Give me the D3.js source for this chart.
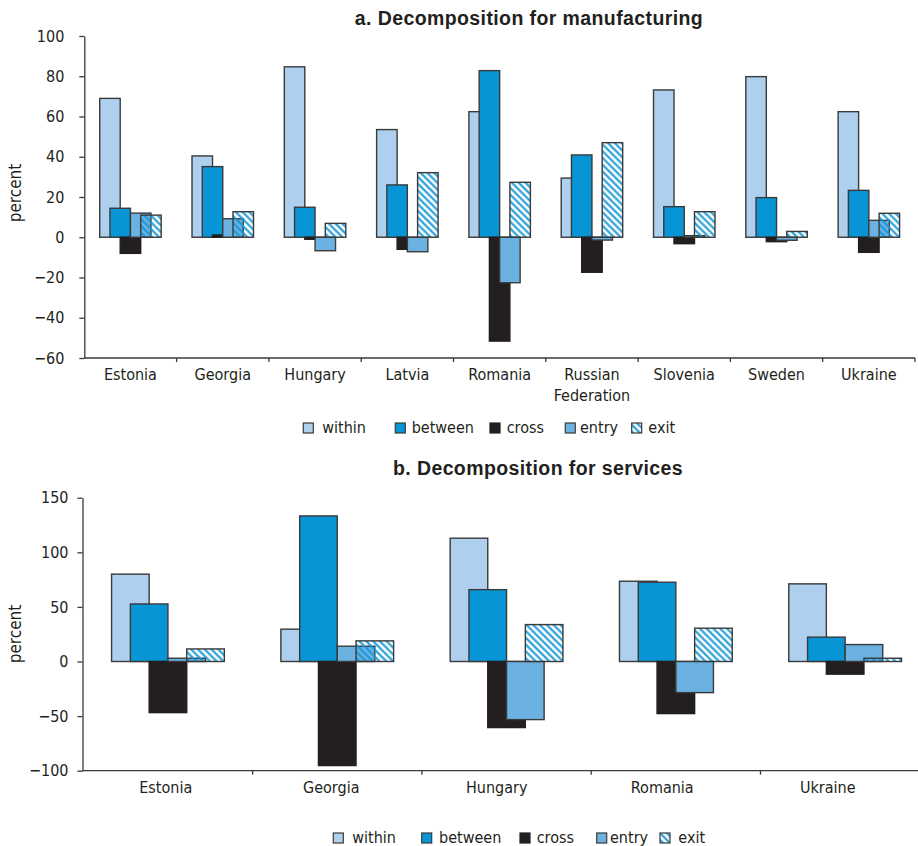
<!DOCTYPE html>
<html>
<head>
<meta charset="utf-8">
<script src="https://cdn.jsdelivr.net/npm/d3@7"></script>
<style>
  html, body { margin: 0; padding: 0; background: #fff; }
  svg { display: block; }
  .narrow { font-family: "Liberation Sans Narrow", "DejaVu Sans Condensed", "Roboto", sans-serif; }
</style>
</head>
<body>
<svg id="chart" width="918" height="846"></svg>
<script>
// ---- data ----
const seriesKeys = ["within", "between", "cross", "entry", "exit"];

// a. manufacturing
const categoriesA = ["Estonia", "Georgia", "Hungary", "Latvia", "Romania",
                     "Russian Federation", "Slovenia", "Sweden", "Ukraine"];
const withinA  = [69.0, 40.4, 84.7, 53.5, 62.4, 29.4, 73.2, 79.8, 62.4];
const betweenA = [14.4, 35.1, 14.9, 26.0, 82.8, 40.9, 15.2, 19.7, 23.3];
const crossA   = [-8.0,  1.1, -1.0, -6.0, -51.6, -17.4, -3.2, -2.2, -7.5];
const entryA   = [12.0,  9.2, -6.7, -7.2, -22.6, -1.4,  0.8, -1.5,  8.4];
const exitA    = [11.0, 12.7,  6.9, 32.1, 27.3, 47.0, 12.7,  2.9, 11.9];
const ticksA   = [-60, -40, -20, 0, 20, 40, 60, 80, 100];

// b. services
const categoriesB = ["Estonia", "Georgia", "Hungary", "Romania", "Ukraine"];
const withinB  = [80.0, 29.6, 112.9, 73.5, 71.1];
const betweenB = [52.7, 133.3, 65.8, 72.6, 22.3];
const crossB   = [-46.8, -95.3, -60.5, -47.7, -11.6];
const entryB   = [3.0, 14.0, -53.2, -28.5, 15.5];
const exitB    = [11.5, 18.9, 33.8, 30.5, 3.0];
const ticksB   = [-100, -50, 0, 50, 100, 150];

// ---- styles ----
const fills = {
  within: "#aed0ee",
  between: "#0795d6",
  cross: "#231f20",
  entry: "#6bb2e2",
  exit: "url(#hatch)"
};
const edge = "#3a3a3a";

const svg = d3.select("#chart");

// diagonal stripes for the exit series (transparent between stripes)
const defs = svg.append("defs");
defs.append("pattern")
  .attr("id", "hatch")
  .attr("patternUnits", "userSpaceOnUse")
  .attr("width", 4.8).attr("height", 4.8)
  .attr("patternTransform", "rotate(45)")
  .append("line")
  .attr("x1", 0).attr("y1", 2.4).attr("x2", 4.8).attr("y2", 2.4)
  .attr("stroke", "#1596d4").attr("stroke-width", 2);

function panel(cfg) {
  const g = svg.append("g");
  const rows = cfg.categories.map((c, i) => {
    const r = { category: c };
    seriesKeys.forEach(k => r[k] = cfg.values[k][i]);
    return r;
  });

  const x = d3.scaleBand().domain(cfg.categories).range(cfg.xRange);
  const labelX = d3.scaleBand().domain(cfg.categories).range(cfg.labelRange || cfg.xRange);
  const y = d3.scaleLinear().domain(cfg.yDomain).range(cfg.yRange);

  const bw = x.bandwidth() * 0.222;   // bar width
  const step = bw / 2;                // bars overlap by half
  const offset0 = (x.bandwidth() - (bw + step * 4)) / 2;

  // bars, series by series so later ones sit on top
  seriesKeys.forEach((k, si) => {
    g.append("g").selectAll("rect")
      .data(rows)
      .join("rect")
      .attr("x", d => x(d.category) + offset0 + si * step)
      .attr("width", bw)
      .attr("y", d => y(Math.max(0, d[k])))
      .attr("height", d => Math.abs(y(d[k]) - y(0)))
      .attr("fill", fills[k])
      .attr("stroke", k === "cross" ? "#231f20" : edge)
      .attr("stroke-width", 1.4);
  });

  // y axis
  const yAxis = g.append("g")
    .attr("transform", `translate(${cfg.yAxisX},0)`)
    .call(d3.axisLeft(y).tickValues(cfg.ticks).tickSize(5).tickPadding(cfg.tickPad).tickSizeOuter(0));
  yAxis.select(".domain").attr("stroke", edge).attr("stroke-width", 1.3);
  yAxis.selectAll(".tick line").attr("stroke", edge).attr("stroke-width", 1.3);
  yAxis.selectAll("text").attr("class", "narrow").attr("font-size", 16)
    .attr("fill", "#231f20").attr("font-family", null);

  // x axis at the bottom of the value range
  const base = cfg.yRange[0];
  const xg = g.append("g");
  xg.append("line")
    .attr("x1", cfg.yAxisX).attr("x2", cfg.xRange[1])
    .attr("y1", base).attr("y2", base)
    .attr("stroke", edge).attr("stroke-width", 1.3);
  xg.selectAll("line.tk")
    .data(cfg.categories)
    .join("line")
    .attr("class", "tk")
    .attr("x1", d => x(d) + x.bandwidth()).attr("x2", d => x(d) + x.bandwidth())
    .attr("y1", base).attr("y2", base + 4)
    .attr("stroke", edge).attr("stroke-width", 1.3);
  const lab = xg.selectAll("text.cat")
    .data(cfg.categories)
    .join("text")
    .attr("class", "cat narrow")
    .attr("text-anchor", "middle")
    .attr("font-size", 16)
    .attr("fill", "#231f20")
    .attr("x", d => labelX(d) + labelX.bandwidth() / 2)
    .attr("y", base + cfg.labelDy);
  lab.each(function(d) {
    const parts = d.split(" ");
    const t = d3.select(this);
    parts.forEach((p, i) => {
      t.append("tspan")
        .attr("x", labelX(d) + labelX.bandwidth() / 2)
        .attr("dy", i === 0 ? 0 : 21)
        .text(p);
    });
  });

  // y title
  g.append("text")
    .attr("class", "narrow")
    .attr("font-size", 17)
    .attr("fill", "#231f20")
    .attr("text-anchor", "middle")
    .attr("transform", `translate(${cfg.yTitle[0]},${cfg.yTitle[1]}) rotate(-90)`)
    .attr("dy", "0.35em")
    .text("percent");

  // panel title
  g.append("text")
    .attr("font-family", "'Liberation Sans', Arial, sans-serif")
    .attr("font-weight", "bold")
    .attr("font-size", 19.5)
    .attr("letter-spacing", 0.4)
    .attr("fill", "#231f20")
    .attr("text-anchor", "middle")
    .attr("x", cfg.title[1]).attr("y", cfg.title[2])
    .text(cfg.title[0]);

  // legend
  const lg = g.append("g");
  seriesKeys.forEach((k, i) => {
    lg.append("rect")
      .attr("x", cfg.legendSq[i]).attr("y", cfg.legendY - 9)
      .attr("width", 10).attr("height", 10)
      .attr("fill", fills[k])
      .attr("stroke", k === "cross" ? "#231f20" : edge)
      .attr("stroke-width", 1.2);
    lg.append("text")
      .attr("class", "narrow")
      .attr("font-size", 16)
      .attr("fill", "#231f20")
      .attr("x", cfg.legendTx[i]).attr("y", cfg.legendY + 1)
      .text(k);
  });
}

panel({
  categories: categoriesA,
  values: { within: withinA, between: betweenA, cross: crossA, entry: entryA, exit: exitA },
  ticks: ticksA,
  xRange: [84.3, 915],
  yDomain: [-60, 100],
  yRange: [358, 36],
  yAxisX: 84.3,
  tickPad: 15,
  labelDy: 22,
  yTitle: [15, 193],
  title: ["a. Decomposition for manufacturing", 529, 25],
  legendY: 432,
  legendSq: [303.3, 395.3, 490, 565.3, 631.7],
  legendTx: [322.3, 411.7, 506.7, 580, 648.3]
});

panel({
  categories: categoriesB,
  values: { within: withinB, between: betweenB, cross: crossB, entry: entryB, exit: exitB },
  ticks: ticksB,
  xRange: [83.3, 83.3 + 5 * 169.3],
  labelRange: [83, 910.5],
  yDomain: [-100, 150],
  yRange: [770.7, 497.7],
  yAxisX: 82.5,
  tickPad: 9,
  labelDy: 22.6,
  yTitle: [15, 634],
  title: ["b. Decomposition for services", 538, 475],
  legendY: 842,
  legendSq: [333.3, 421.7, 520, 596.7, 660],
  legendTx: [352.3, 439, 536.7, 610, 678.3]
});
</script>
</body>
</html>
